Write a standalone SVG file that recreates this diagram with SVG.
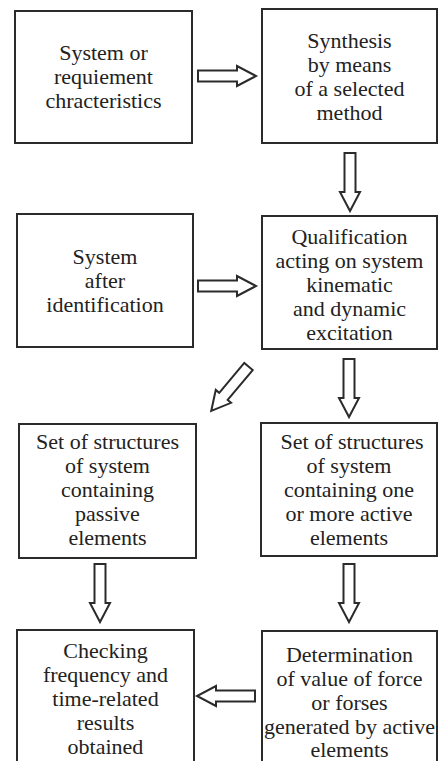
<svg xmlns="http://www.w3.org/2000/svg" xmlns:xlink="http://www.w3.org/1999/xlink" width="438" height="761" viewBox="0 0 438 761">
<style>
.box{fill:#fff;stroke:#2b2b2b;stroke-width:2}
.t{font-family:'Liberation Serif','DejaVu Serif','Times New Roman',Times,serif;font-size:22px;fill:#222;text-anchor:middle}
.arr{fill:#fff;stroke:#2b2b2b;stroke-width:2;stroke-linejoin:miter}
</style>
<defs>
<path id="arr" class="arr" d="M0,-5.5 H39 V-10 L58,0 L39,10 V5.5 H0 Z"/>
</defs>
<rect x="0" y="0" width="438" height="761" fill="#fff"/>
<g id="connectors">
<use xlink:href="#arr" transform="translate(198,76)"/>
<use xlink:href="#arr" transform="translate(350,153) rotate(90)"/>
<use xlink:href="#arr" transform="translate(198,286)"/>
<use xlink:href="#arr" transform="translate(248.5,366.5) rotate(130)"/>
<use xlink:href="#arr" transform="translate(349,359) rotate(90)"/>
<use xlink:href="#arr" transform="translate(100,564) rotate(90)"/>
<use xlink:href="#arr" transform="translate(349,564) rotate(90)"/>
<use xlink:href="#arr" transform="translate(255,696) rotate(180)"/>
</g>
<g id="n1">
<rect class="box" x="15" y="11" width="177" height="132"/>
<text class="t" font-family="Liberation Serif, DejaVu Serif, serif"><tspan x="103.5" y="60">System or</tspan><tspan x="103.5" y="84">requiement</tspan><tspan x="103.5" y="108">chracteristics</tspan></text>
</g>
<g id="n2">
<rect class="box" x="262" y="9" width="175" height="134"/>
<text class="t" font-family="Liberation Serif, DejaVu Serif, serif"><tspan x="349.5" y="48">Synthesis</tspan><tspan x="349.5" y="72">by means</tspan><tspan x="349.5" y="96">of a selected</tspan><tspan x="349.5" y="120">method</tspan></text>
</g>
<g id="n3">
<rect class="box" x="17" y="214" width="176" height="133"/>
<text class="t" font-family="Liberation Serif, DejaVu Serif, serif"><tspan x="105" y="264">System</tspan><tspan x="105" y="288">after</tspan><tspan x="105" y="312">identification</tspan></text>
</g>
<g id="n4">
<rect class="box" x="262" y="216" width="175" height="133"/>
<text class="t" font-family="Liberation Serif, DejaVu Serif, serif"><tspan x="349.5" y="244">Qualification</tspan><tspan x="349.5" y="268">acting on system</tspan><tspan x="349.5" y="292">kinematic</tspan><tspan x="349.5" y="316">and dynamic</tspan><tspan x="349.5" y="340">excitation</tspan></text>
</g>
<g id="n5">
<rect class="box" x="19" y="424" width="177" height="134"/>
<text class="t" font-family="Liberation Serif, DejaVu Serif, serif"><tspan x="107.5" y="449">Set of structures</tspan><tspan x="107.5" y="473">of system</tspan><tspan x="107.5" y="497">containing</tspan><tspan x="107.5" y="521">passive</tspan><tspan x="107.5" y="545">elements</tspan></text>
</g>
<g id="n6">
<rect class="box" x="261" y="423" width="176" height="133"/>
<text class="t" font-family="Liberation Serif, DejaVu Serif, serif"><tspan x="352" y="449">Set of structures</tspan><tspan x="349" y="473">of system</tspan><tspan x="349" y="497">containing one</tspan><tspan x="349" y="521">or more active</tspan><tspan x="349" y="545">elements</tspan></text>
</g>
<g id="n7">
<rect class="box" x="17" y="630" width="177" height="140"/>
<text class="t" font-family="Liberation Serif, DejaVu Serif, serif"><tspan x="105.5" y="658">Checking</tspan><tspan x="105.5" y="682">frequency and</tspan><tspan x="105.5" y="706">time-related</tspan><tspan x="105.5" y="730">results</tspan><tspan x="105.5" y="754">obtained</tspan></text>
</g>
<g id="n8">
<rect class="box" x="262" y="631" width="175" height="140"/>
<text class="t" font-family="Liberation Serif, DejaVu Serif, serif"><tspan x="349.5" y="662">Determination</tspan><tspan x="349.5" y="686">of value of force</tspan><tspan x="349.5" y="710">or forses</tspan><tspan x="349.5" y="734">generated by active</tspan><tspan x="349.5" y="757">elements</tspan></text>
</g>
</svg>
